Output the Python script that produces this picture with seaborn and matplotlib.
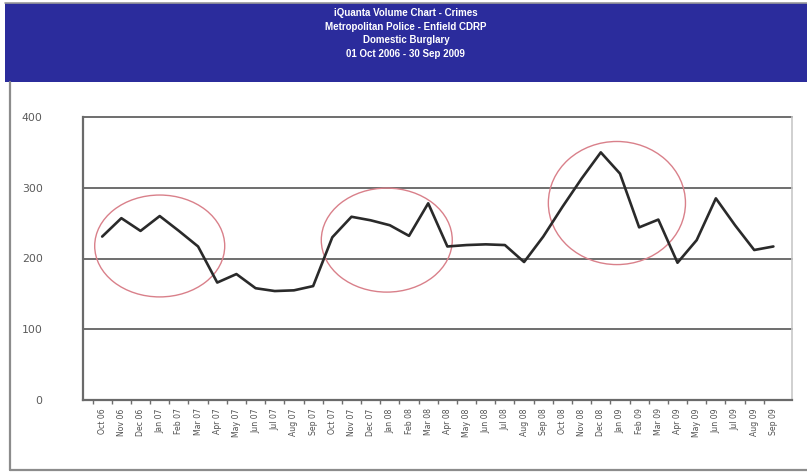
import matplotlib
matplotlib.use("Agg")
import matplotlib.pyplot as plt
from matplotlib.patches import Rectangle, Ellipse
from matplotlib.lines import Line2D
from matplotlib import font_manager
import seaborn as sns
import pandas as pd
import numpy as np

# Monthly volume of domestic burglary, Oct 2006 - Sep 2009
months = ["Oct 06", "Nov 06", "Dec 06", "Jan 07", "Feb 07", "Mar 07", "Apr 07", "May 07",
          "Jun 07", "Jul 07", "Aug 07", "Sep 07", "Oct 07", "Nov 07", "Dec 07", "Jan 08",
          "Feb 08", "Mar 08", "Apr 08", "May 08", "Jun 08", "Jul 08", "Aug 08", "Sep 08",
          "Oct 08", "Nov 08", "Dec 08", "Jan 09", "Feb 09", "Mar 09", "Apr 09", "May 09",
          "Jun 09", "Jul 09", "Aug 09", "Sep 09"]
volumes = [231, 257, 239, 260, 239, 217, 166, 178, 158, 154, 155, 161,
           230, 259, 254, 247, 232, 278, 217, 219, 220, 219, 195, 231,
           273, 313, 350, 320, 244, 255, 194, 226, 285, 247, 212, 217]
y_ticks = [0, 100, 200, 300, 400]
title_lines = ["iQuanta Volume Chart - Crimes",
               "Metropolitan Police - Enfield CDRP",
               "Domestic Burglary",
               "01 Oct 2006 - 30 Sep 2009"]

df = pd.DataFrame({"pos": np.arange(len(months)), "month": months, "volume": volumes})

sns.set_style("white")
plt.rcParams["font.family"] = ["DejaVu Sans"]

installed = {f.name for f in font_manager.fontManager.ttflist}
title_family = ["Liberation Sans Narrow"] if "Liberation Sans Narrow" in installed else ["Liberation Sans"]
title_size = 7.8 if title_family[0] == "Liberation Sans Narrow" else 7.0

W, H = 807, 472
fig = plt.figure(figsize=(W / 100, H / 100), dpi=100)
fig.patch.set_facecolor("white")

# header banner
fig.patches.append(Rectangle((5 / W, 1 - 82 / H), 1 - 5 / W, 79 / H,
                             transform=fig.transFigure, facecolor="#2B2C9C",
                             edgecolor="none", zorder=0))
fig.add_artist(Line2D([5 / W, 1], [1 - 3 / H, 1 - 3 / H], transform=fig.transFigure,
                      color="#9a9a9a", lw=1.2))
fig.text(0.503, 1 - 33.5 / H, "\n".join(title_lines), ha="center", va="center",
         color="white", fontsize=title_size, fontweight="bold", linespacing=1.45,
         family=title_family)

# outer frame
fig.add_artist(Line2D([10 / W, 10 / W], [1 - 82 / H, 1 - 470 / H], transform=fig.transFigure,
                      color="#8c8c8c", lw=1.6))
fig.add_artist(Line2D([10 / W, 1], [1 - 470 / H, 1 - 470 / H], transform=fig.transFigure,
                      color="#8c8c8c", lw=1.6))

ax = fig.add_axes([83 / W, 1 - 400 / H, (792 - 83) / W, (400 - 117) / H])
ax.set_facecolor("white")

sns.lineplot(data=df, x="pos", y="volume", ax=ax, color="#2a2a2a", lw=1.9, zorder=3)

ax.set_xlim(-1.0, 35.97)
ax.set_ylim(0, 400)
ax.set_yticks(y_ticks)
ax.set_yticklabels([str(v) for v in y_ticks])
ax.set_xticks(df["pos"])
ax.set_xticklabels(months, rotation=90)
ax.set_xticks(np.arange(len(months)) + 0.5 - 1, minor=True)
ax.set_xlabel("")
ax.set_ylabel("")

for v in y_ticks[1:]:
    ax.axhline(v, color="#6e6e6e", lw=1.4, zorder=1, clip_on=False)

ax.tick_params(axis="y", which="major", direction="out", length=7, width=1.3,
               color="#6e6e6e", labelsize=7.8, labelcolor="#5a5a5a", pad=22)
ax.tick_params(axis="x", which="major", length=0, labelsize=5.6,
               labelcolor="#505050", pad=6)
ax.tick_params(axis="x", which="minor", direction="out", length=3, width=1,
               color="#6e6e6e", bottom=True)

for side in ["left", "bottom"]:
    ax.spines[side].set_color("#6a6a6a")
    ax.spines[side].set_linewidth(1.6)
ax.spines["top"].set_visible(False)
ax.spines["right"].set_color("#c8c8c8")
ax.spines["right"].set_linewidth(1.2)

# highlighted periods
ring = "#d9808a"
for (cx, cy, w, h) in [(3.0, 217.7, 6.78, 144), (14.84, 226, 6.83, 147), (26.84, 278.4, 7.15, 174)]:
    ax.add_patch(Ellipse((cx, cy), w, h, fill=False, edgecolor=ring, lw=1.0, zorder=2))

fig.savefig("out.png", dpi=100)
